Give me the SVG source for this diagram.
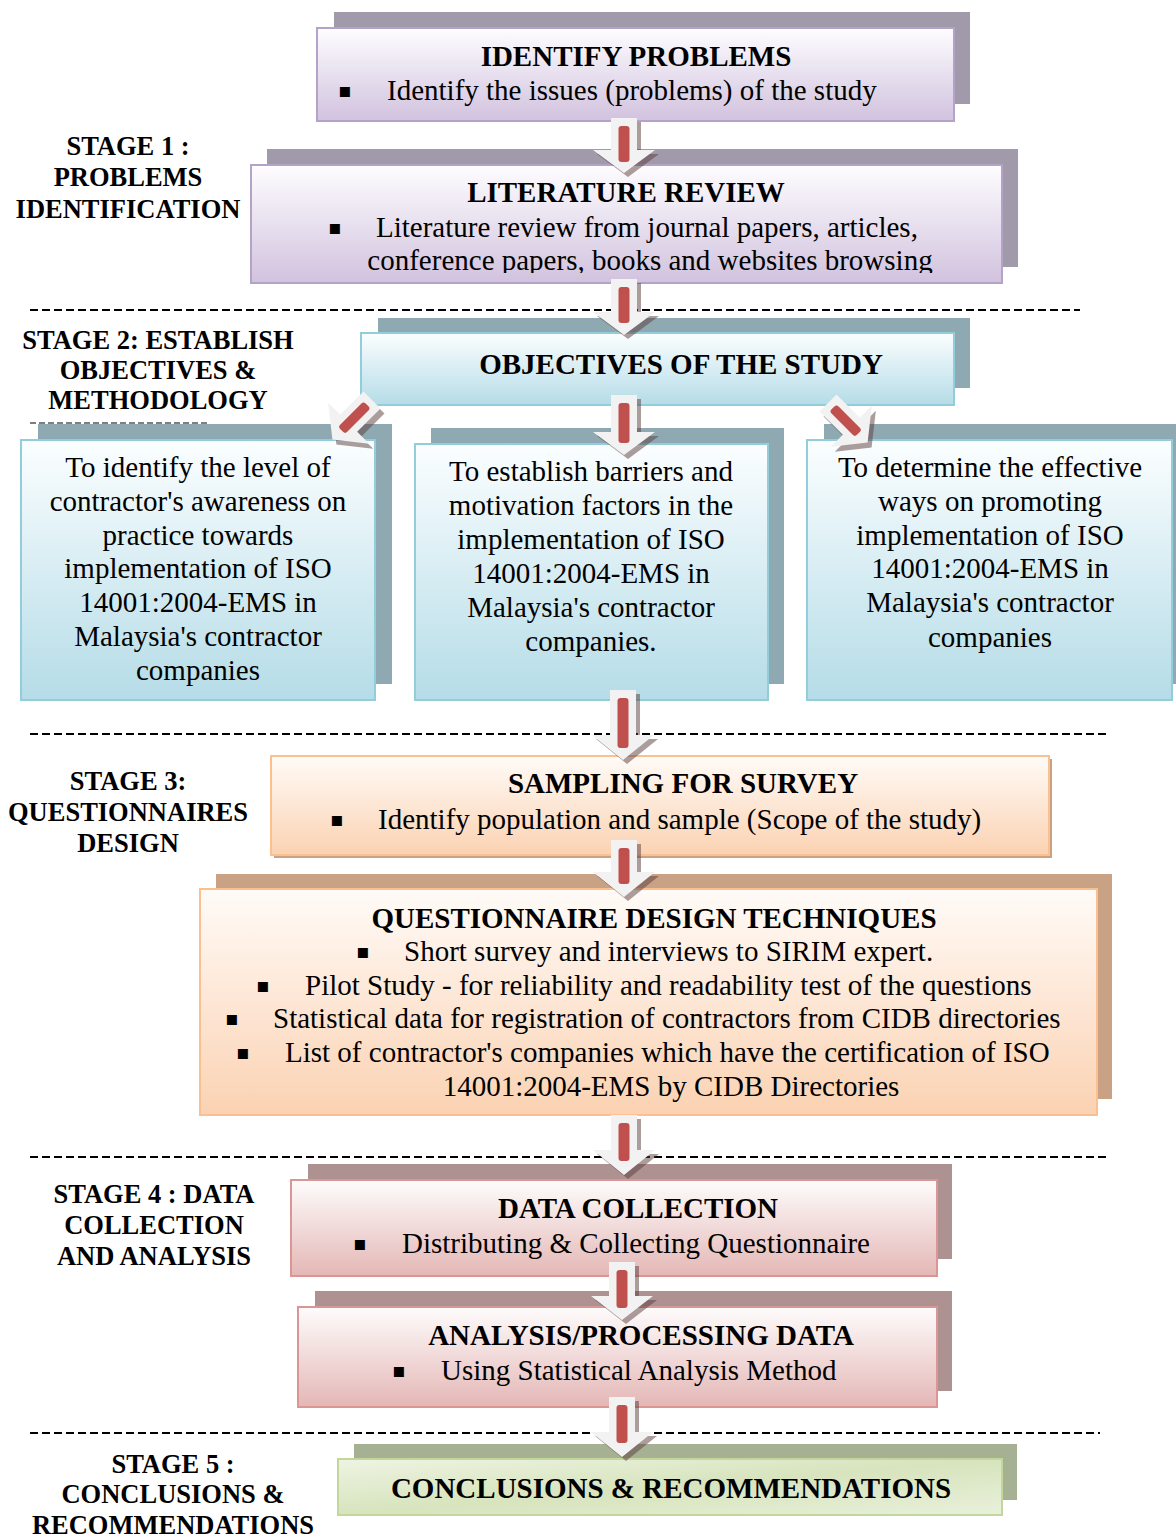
<svg xmlns="http://www.w3.org/2000/svg" width="1176" height="1538" viewBox="0 0 1176 1538">
<defs>
<linearGradient id="gPur" x1="0" y1="0" x2="0" y2="1"><stop offset="0" stop-color="#fefdff"/><stop offset="1" stop-color="#d1c2de"/></linearGradient>
<linearGradient id="gBlu" x1="0" y1="0" x2="0" y2="1"><stop offset="0" stop-color="#fbfeff"/><stop offset="1" stop-color="#b5dce7"/></linearGradient>
<linearGradient id="gPea" x1="0" y1="0" x2="0" y2="1"><stop offset="0" stop-color="#fffbf8"/><stop offset="1" stop-color="#fbd2b2"/></linearGradient>
<linearGradient id="gPin" x1="0" y1="0" x2="0" y2="1"><stop offset="0" stop-color="#fefcfc"/><stop offset="1" stop-color="#e4b7b6"/></linearGradient>
<linearGradient id="gGrn" x1="0" y1="0" x2="1" y2="1"><stop offset="0" stop-color="#eef4e3"/><stop offset="0.5" stop-color="#d7e4bd"/><stop offset="1" stop-color="#e9f0db"/></linearGradient>
<clipPath id="clipLit"><rect x="251" y="165" width="751" height="108"/></clipPath>
</defs>
<style>
text{font-family:"Liberation Serif","Times New Roman",serif;fill:#000}
.t{font-size:29px;font-weight:bold;text-anchor:middle}
.b{font-size:29px;text-anchor:middle}
.bl{font-size:29px}
.s{font-size:26.5px;font-weight:bold;text-anchor:middle}
.bu{font-family:"DejaVu Sans",sans-serif;font-size:20px}
.pur{fill:url(#gPur);stroke:#b4a2c8;stroke-width:2}
.blu{fill:url(#gBlu);stroke:#92cddc;stroke-width:2}
.pea{fill:url(#gPea);stroke:#fac090;stroke-width:2}
.pin{fill:url(#gPin);stroke:#d99694;stroke-width:2}
.grn{fill:url(#gGrn);stroke:#c3d69b;stroke-width:2}
.shP{fill:#a09aab}
.shB{fill:#8ea9b1}
.shO{fill:#c9a285}
.shR{fill:#ae9191}
.shG{fill:#a6b193}
.dash{stroke:#000;stroke-width:2;stroke-dasharray:8 4;fill:none}
.aw{fill:#f2f2f2}
.as{fill:#5a3c3c;opacity:0.5}
.ar{fill:#c0504d}
</style>

<g id="separators">
<line class="dash" x1="30" y1="310" x2="1080" y2="310"/>
<line class="dash" x1="30" y1="423" x2="207" y2="423" style="stroke-width:1.2;stroke-dasharray:6 3"/>
<line class="dash" x1="30" y1="734" x2="1110" y2="734"/>
<line class="dash" x1="30" y1="1157" x2="1110" y2="1157"/>
<line class="dash" x1="30" y1="1433" x2="1100" y2="1433"/>
</g>

<g id="stage-labels">
<text class="s" x="128" y="155">STAGE 1 :</text>
<text class="s" x="128" y="186">PROBLEMS</text>
<text class="s" x="128" y="218">IDENTIFICATION</text>
<text class="s" x="158" y="349">STAGE 2: ESTABLISH</text>
<text class="s" x="158" y="379">OBJECTIVES &amp;</text>
<text class="s" x="158" y="409">METHODOLOGY</text>
<text class="s" x="128" y="790">STAGE 3:</text>
<text class="s" x="128" y="821">QUESTIONNAIRES</text>
<text class="s" x="128" y="852">DESIGN</text>
<text class="s" x="154" y="1203">STAGE 4 : DATA</text>
<text class="s" x="154" y="1234">COLLECTION</text>
<text class="s" x="154" y="1265">AND ANALYSIS</text>
<text class="s" x="173" y="1473">STAGE 5 :</text>
<text class="s" x="173" y="1503">CONCLUSIONS &amp;</text>
<text class="s" x="173" y="1534">RECOMMENDATIONS</text>
</g>

<g id="identify-problems">
<rect class="shP" x="334" y="12" width="636" height="92"/>
<rect class="pur" x="317" y="28" width="637" height="93"/>
<text class="t" x="636" y="66">IDENTIFY PROBLEMS</text>
<text class="bu" x="338" y="97">▪</text>
<text class="bl" x="387" y="100">Identify the issues (problems) of the study</text>
</g>

<g id="literature-review">
<rect class="shP" x="267" y="149" width="751" height="118"/>
<rect class="pur" x="251" y="165" width="751" height="118"/>
<text class="t" x="626" y="202">LITERATURE REVIEW</text>
<text class="bu" x="328" y="234">▪</text>
<text class="bl" x="376" y="237">Literature review from journal papers, articles,</text>
<text class="b" x="650" y="270" clip-path="url(#clipLit)">conference papers, books and websites browsing</text>
</g>

<g id="objectives">
<rect class="shB" x="378" y="318" width="592" height="70"/>
<rect class="blu" x="361" y="333" width="593" height="72"/>
<text class="t" x="681" y="374">OBJECTIVES OF THE STUDY</text>
</g>

<g id="objective-1">
<rect class="shB" x="38" y="424" width="354" height="260"/>
<rect class="blu" x="21" y="440" width="354" height="260"/>
<text class="b" x="198" y="477">To identify the level of</text>
<text class="b" x="198" y="511">contractor's awareness on</text>
<text class="b" x="198" y="545">practice towards</text>
<text class="b" x="198" y="578">implementation of ISO</text>
<text class="b" x="198" y="612">14001:2004-EMS in</text>
<text class="b" x="198" y="646">Malaysia's contractor</text>
<text class="b" x="198" y="680">companies</text>
</g>

<g id="objective-2">
<rect class="shB" x="431" y="428" width="353" height="256"/>
<rect class="blu" x="415" y="444" width="353" height="256"/>
<text class="b" x="591" y="481">To establish barriers and</text>
<text class="b" x="591" y="515">motivation factors in the</text>
<text class="b" x="591" y="549">implementation of ISO</text>
<text class="b" x="591" y="583">14001:2004-EMS in</text>
<text class="b" x="591" y="617">Malaysia's contractor</text>
<text class="b" x="591" y="651">companies.</text>
</g>

<g id="objective-3">
<rect class="shB" x="824" y="424" width="354" height="260"/>
<rect class="blu" x="807" y="440" width="365" height="260"/>
<text class="b" x="990" y="477">To determine the effective</text>
<text class="b" x="990" y="511">ways on promoting</text>
<text class="b" x="990" y="545">implementation of ISO</text>
<text class="b" x="990" y="578">14001:2004-EMS in</text>
<text class="b" x="990" y="612">Malaysia's contractor</text>
<text class="b" x="990" y="647">companies</text>
</g>

<g id="sampling">
<rect class="shO" x="274" y="759" width="778" height="99"/>
<rect class="pea" x="271" y="756" width="778" height="99"/>
<text class="t" x="683" y="793">SAMPLING FOR SURVEY</text>
<text class="bu" x="330" y="826">▪</text>
<text class="bl" x="378" y="829">Identify population and sample (Scope of the study)</text>
</g>

<g id="questionnaire">
<rect class="shO" x="216" y="874" width="896" height="225"/>
<rect class="pea" x="200" y="889" width="897" height="226"/>
<text class="t" x="654" y="928">QUESTIONNAIRE DESIGN TECHNIQUES</text>
<text class="bu" x="356" y="958">▪</text>
<text class="bl" x="404" y="961">Short survey and interviews to SIRIM expert.</text>
<text class="bu" x="256" y="992">▪</text>
<text class="bl" x="305" y="995">Pilot Study - for reliability and readability test of the questions</text>
<text class="bu" x="225" y="1025">▪</text>
<text class="bl" x="273" y="1028">Statistical data for registration of contractors from CIDB directories</text>
<text class="bu" x="236" y="1059">▪</text>
<text class="bl" x="285" y="1062">List of contractor's companies which have the certification of ISO</text>
<text class="b" x="671" y="1096">14001:2004-EMS by CIDB Directories</text>
</g>

<g id="data-collection">
<rect class="shR" x="308" y="1164" width="644" height="95"/>
<rect class="pin" x="291" y="1180" width="646" height="96"/>
<text class="t" x="638" y="1218">DATA COLLECTION</text>
<text class="bu" x="353" y="1250">▪</text>
<text class="bl" x="402" y="1253">Distributing &amp; Collecting Questionnaire</text>
</g>

<g id="analysis">
<rect class="shR" x="315" y="1291" width="637" height="100"/>
<rect class="pin" x="298" y="1307" width="639" height="100"/>
<text class="t" x="641" y="1345">ANALYSIS/PROCESSING DATA</text>
<text class="bu" x="392" y="1377">▪</text>
<text class="bl" x="441" y="1380">Using Statistical Analysis Method</text>
</g>

<g id="conclusions">
<rect class="shG" x="354" y="1444" width="663" height="56"/>
<rect class="grn" x="338" y="1459" width="664" height="56"/>
<text class="t" x="671" y="1498">CONCLUSIONS &amp; RECOMMENDATIONS</text>
</g>

<g id="connectors">
<g transform="translate(4,4)">
<path class="as" d="M611,118H637V150H655L624,173L593,150H611Z"/>
<path class="as" d="M611,279H637V312H655L624,335L593,312H611Z"/>
<path class="as" d="M611,395H637V432H655L624,455L593,432H611Z"/>
<path class="as" d="M610,690H636V735H654L623,760L592,735H610Z"/>
<path class="as" d="M611,840H637V872H655L624,897L593,872H611Z"/>
<path class="as" d="M611,1115H637V1150H655L624,1175L593,1150H611Z"/>
<path class="as" d="M609,1262H635V1296H653L622,1320L591,1296H609Z"/>
<path class="as" d="M609,1397H635V1432H653L622,1457L591,1432H609Z"/>
</g>
<path class="aw" d="M611,118H637V150H655L624,173L593,150H611Z"/>
<rect class="ar" x="618.5" y="126" width="11" height="36" rx="3"/>
<path class="aw" d="M611,279H637V312H655L624,335L593,312H611Z"/>
<rect class="ar" x="618.5" y="287" width="11" height="36" rx="3"/>
<path class="aw" d="M611,395H637V432H655L624,455L593,432H611Z"/>
<rect class="ar" x="618.5" y="403" width="11" height="40" rx="3"/>
<path class="aw" d="M610,690H636V735H654L623,760L592,735H610Z"/>
<rect class="ar" x="617.5" y="698" width="11" height="50" rx="3"/>
<path class="aw" d="M611,840H637V872H655L624,897L593,872H611Z"/>
<rect class="ar" x="618.5" y="848" width="11" height="36" rx="3"/>
<path class="aw" d="M611,1115H637V1150H655L624,1175L593,1150H611Z"/>
<rect class="ar" x="618.5" y="1123" width="11" height="38" rx="3"/>
<path class="aw" d="M609,1262H635V1296H653L622,1320L591,1296H609Z"/>
<rect class="ar" x="616.5" y="1270" width="11" height="38" rx="3"/>
<path class="aw" d="M609,1397H635V1432H653L622,1457L591,1432H609Z"/>
<rect class="ar" x="616.5" y="1405" width="11" height="38" rx="3"/>
<g transform="translate(376,405) rotate(45)"><path class="as" d="M-12,0H12V33H29L0,56L-29,33H-12Z"/></g>
<g transform="translate(372,400) rotate(45)"><path class="aw" d="M-12,0H12V33H29L0,56L-29,33H-12Z"/><rect class="ar" x="-5" y="7" width="10" height="36" rx="3"/></g>
<g transform="translate(832,408) rotate(-45)"><path class="as" d="M-12,0H12V33H29L0,56L-29,33H-12Z"/></g>
<g transform="translate(828,403) rotate(-45)"><path class="aw" d="M-12,0H12V33H29L0,56L-29,33H-12Z"/><rect class="ar" x="-5" y="7" width="10" height="36" rx="3"/></g>
</g>
</svg>
